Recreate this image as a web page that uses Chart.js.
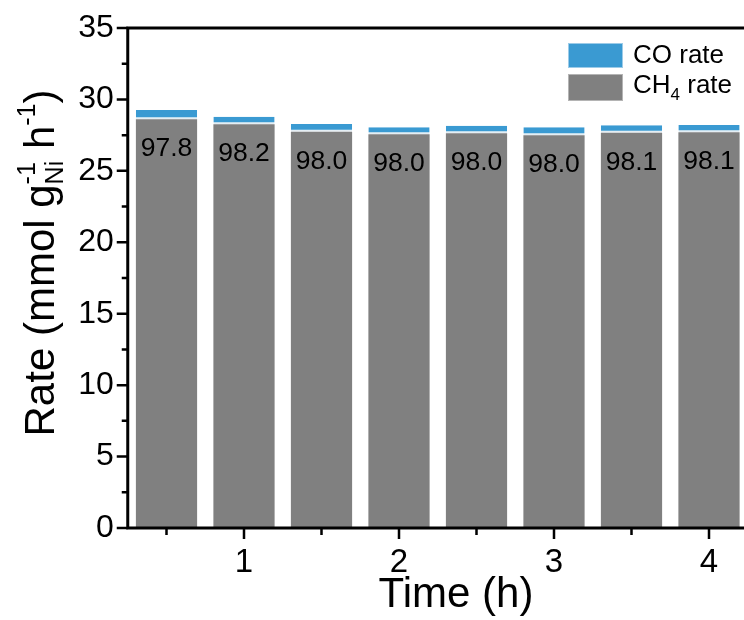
<!DOCTYPE html>
<html>
<head>
<meta charset="utf-8">
<script src="https://cdn.jsdelivr.net/npm/chart.js@4"></script>
<style>
  html, body { margin: 0; padding: 0; background: #fff; overflow: hidden; }
  #wrap { width: 770px; height: 620px; }
</style>
</head>
<body>
<div id="wrap"><canvas id="chart" width="770" height="620"></canvas></div>
<script>
// time points (h) and rates
const times = [0.5, 1, 1.5, 2, 2.5, 3, 3.5, 4];
const ch4Rate = [28.62, 28.26, 27.74, 27.56, 27.63, 27.49, 27.67, 27.70];
const coRate = [0.64, 0.53, 0.54, 0.49, 0.53, 0.56, 0.52, 0.51];
const selectivity = ['97.8', '98.2', '98.0', '98.0', '98.0', '98.0', '98.1', '98.1'];
const xTickValues = [1, 2, 3, 4];
const xMinorTicks = [0.5, 1.5, 2.5, 3.5];
const yMax = 35;
const yStep = 5;

const FONT = "'Liberation Sans', Arial, sans-serif";
const BLUE = '#3a9ad2';
const GREY = '#808080';

// text with sub/superscripts, parts measured first so it can be centred
function drawRich(ctx, parts, x, y, align) {
  let total = 0;
  const widths = parts.map(p => {
    ctx.font = p.size + 'px ' + FONT;
    if (p.stack) return Math.max(...p.stack.map(s => ctx.measureText(s.t).width));
    return ctx.measureText(p.t).width;
  });
  widths.forEach(w => total += w);
  let cx = align === 'center' ? x - total / 2 : x;
  ctx.textAlign = 'left';
  ctx.textBaseline = 'alphabetic';
  parts.forEach((p, i) => {
    ctx.font = p.size + 'px ' + FONT;
    if (p.stack) {
      p.stack.forEach(s => ctx.fillText(s.t, cx, y + s.dy));
    } else {
      ctx.fillText(p.t, cx, y + (p.dy || 0));
    }
    cx += widths[i];
  });
}

const axesPlugin = {
  id: 'axesPlugin',
  afterDatasetsDraw(chart) {
    const ctx = chart.ctx;
    const meta = chart.getDatasetMeta(0);
    ctx.save();
    ctx.fillStyle = '#000';
    ctx.font = '26.5px ' + FONT;
    ctx.textAlign = 'center';
    ctx.textBaseline = 'alphabetic';
    meta.data.forEach((bar, i) => {
      ctx.fillText(selectivity[i], bar.x, bar.y + 37);
    });
    ctx.restore();
  },
  afterDraw(chart) {
    const ctx = chart.ctx;
    const xs = chart.scales.x, ys = chart.scales.y;
    const area = chart.chartArea;
    const W = chart.width;
    ctx.save();
    ctx.strokeStyle = '#000';
    ctx.lineWidth = 3;
    ctx.beginPath();
    ctx.moveTo(area.left, area.top);
    ctx.lineTo(W, area.top);
    ctx.moveTo(area.left, area.top - 1.5);
    ctx.lineTo(area.left, area.bottom + 1.5);
    ctx.moveTo(area.left, area.bottom);
    ctx.lineTo(W, area.bottom);
    ctx.stroke();

    ctx.lineWidth = 2.5;
    ctx.beginPath();
    for (let v = 0; v <= yMax; v += yStep / 2) {
      const py = ys.getPixelForValue(v);
      const len = v % yStep === 0 ? 11 : 6;
      ctx.moveTo(area.left - len, py);
      ctx.lineTo(area.left, py);
    }
    xTickValues.forEach(v => {
      const px = xs.getPixelForValue(v);
      ctx.moveTo(px, area.bottom);
      ctx.lineTo(px, area.bottom + 11);
    });
    xMinorTicks.forEach(v => {
      const px = xs.getPixelForValue(v);
      ctx.moveTo(px, area.bottom);
      ctx.lineTo(px, area.bottom + 7);
    });
    ctx.stroke();

    // legend
    ctx.lineWidth = 1;
    ctx.fillStyle = BLUE;
    ctx.fillRect(568, 43, 55, 25);
    ctx.strokeStyle = '#9ccbe8';
    ctx.strokeRect(568.5, 43.5, 54, 24);
    ctx.fillStyle = GREY;
    ctx.fillRect(568, 74, 55, 27);
    ctx.strokeStyle = '#b4b4b4';
    ctx.strokeRect(568.5, 74.5, 54, 26);
    ctx.fillStyle = '#000';
    drawRich(ctx, [{ t: 'CO rate', size: 26 }], 633, 63, 'left');
    drawRich(ctx, [
      { t: 'CH', size: 26 },
      { t: '4', size: 17, dy: 7 },
      { t: ' rate', size: 26 }
    ], 633, 93, 'left');

    // axis titles
    drawRich(ctx, [{ t: 'Time (h)', size: 42 }], 456, 607, 'center');
    ctx.save();
    ctx.translate(54, 263);
    ctx.rotate(-Math.PI / 2);
    drawRich(ctx, [
      { t: 'Rate (mmol g', size: 42 },
      { stack: [{ t: '-1', dy: -19 }, { t: 'Ni', dy: 9 }], size: 25 },
      { t: ' h', size: 42 },
      { t: '-1', size: 25, dy: -19 },
      { t: ')', size: 42 }
    ], 0, 0, 'center');
    ctx.restore();
    ctx.restore();
  }
};

new Chart(document.getElementById('chart'), {
  type: 'bar',
  data: {
    datasets: [
      {
        label: 'CH4 rate',
        data: times.map((t, i) => ({ x: t, y: ch4Rate[i] })),
        backgroundColor: GREY,
        borderWidth: 0
      },
      {
        label: 'CO rate',
        data: times.map((t, i) => ({ x: t, y: coRate[i] })),
        backgroundColor: BLUE,
        borderColor: '#e4eef4',
        borderWidth: { top: 0, left: 0, right: 0, bottom: 2 },
        borderSkipped: false
      }
    ]
  },
  options: {
    responsive: false,
    animation: false,
    events: [],
    barPercentage: 0.79,
    categoryPercentage: 1,
    layout: { padding: { top: 28, right: 14.5, bottom: 0, left: 0 } },
    plugins: { legend: { display: false }, tooltip: { enabled: false } },
    scales: {
      x: {
        type: 'linear',
        stacked: true,
        offset: false,
        min: 0.25,
        max: 4.3,
        afterFit: s => { s.height = 92; },
        afterBuildTicks: s => { s.ticks = xTickValues.map(v => ({ value: v })); },
        grid: { display: true, drawOnChartArea: false, tickLength: 10, tickColor: 'rgba(0,0,0,0)' },
        border: { display: false },
        ticks: { color: '#000', padding: 5, font: { family: FONT, size: 33 }, maxRotation: 0, autoSkip: false }
      },
      y: {
        stacked: true,
        min: 0,
        max: yMax,
        afterFit: s => { s.width = 127.75; },
        grid: { display: true, drawOnChartArea: false, tickLength: 10, tickColor: 'rgba(0,0,0,0)' },
        border: { display: false },
        ticks: { stepSize: yStep, color: '#000', padding: 4, font: { family: FONT, size: 32 } }
      }
    }
  },
  plugins: [axesPlugin]
});
</script>
</body>
</html>
